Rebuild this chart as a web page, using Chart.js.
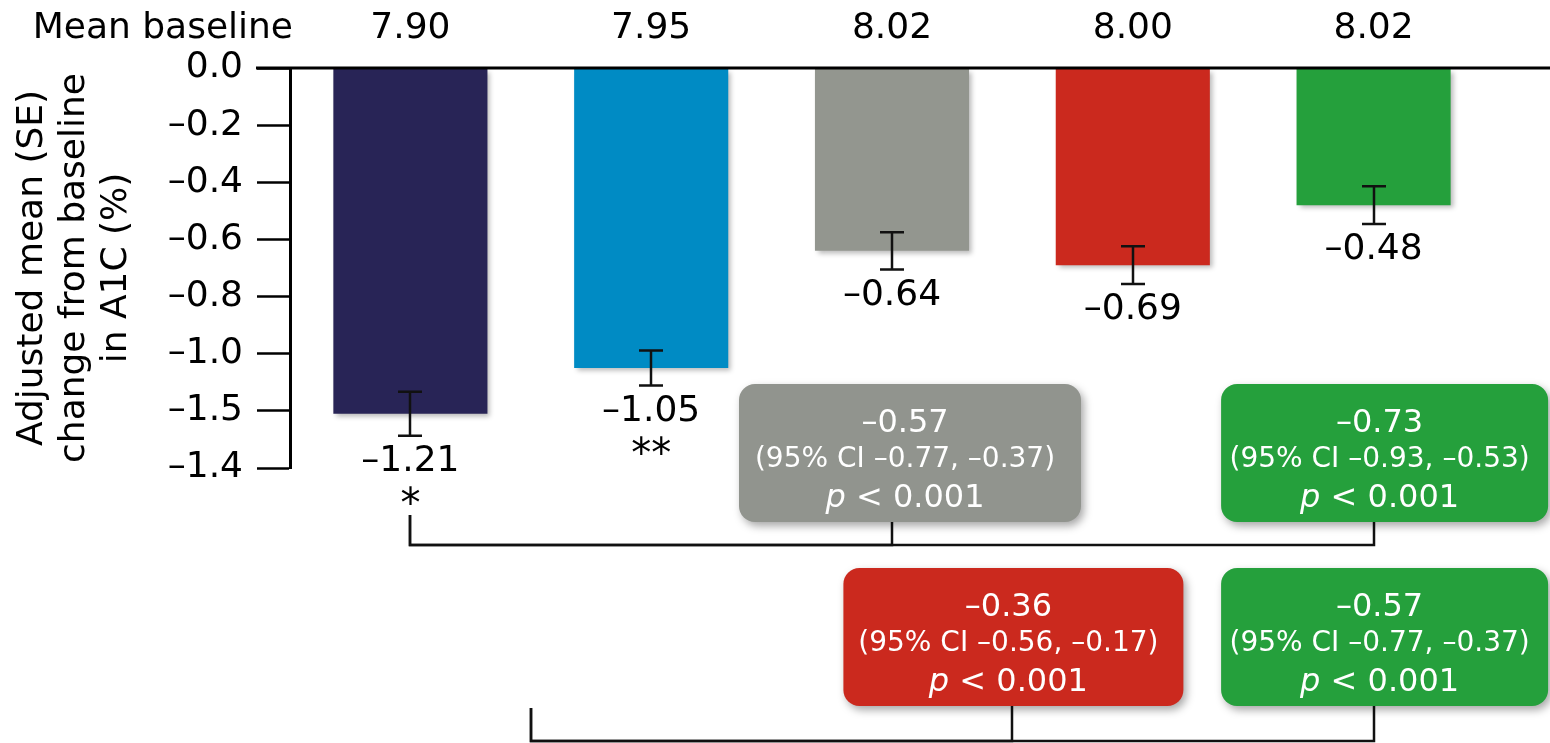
<!DOCTYPE html>
<html><head><meta charset="utf-8">
<script src="https://cdn.jsdelivr.net/npm/chart.js@4.4.0/dist/chart.umd.min.js"></script>
<style>html,body{margin:0;padding:0;background:#fff;overflow:hidden}</style>
</head><body>
<canvas id="c" width="1550" height="743" style="width:1550px;height:743px;display:block"></canvas>
<script>
// ---- data ----
const baselineLabels = ["7.90", "7.95", "8.02", "8.00", "8.02"];
const meanChange = [-1.21, -1.05, -0.64, -0.69, -0.48];
const seValues = [0.077, 0.061, 0.065, 0.066, 0.066];
const valueLabels = ["–1.21", "–1.05", "–0.64", "–0.69", "–0.48"];
const significance = ["*", "**", "", "", ""];
const barColors = ["#282456", "#008BC4", "#93968F", "#CB291E", "#25A03C"];
const yTickLabels = ["0.0", "–0.2", "–0.4", "–0.6", "–0.8", "–1.0", "–1.5", "–1.4"];
const yTitle = ["Adjusted mean (SE)", "change from baseline", "in A1C (%)"];
const headerLabel = "Mean baseline";
const compFrom = [0, 0, 0.5, 0.5];
const compTo = [2, 4, 2.5, 4];
const compRow = [0, 0, 1, 1];
const compDiff = ["–0.57", "–0.73", "–0.36", "–0.57"];
const compCI = ["(95% CI –0.77, –0.37)", "(95% CI –0.93, –0.53)", "(95% CI –0.56, –0.17)", "(95% CI –0.77, –0.37)"];
const compP = ["< 0.001", "< 0.001", "< 0.001", "< 0.001"];
const compColors = ["#91948E", "#25A03C", "#CB291E", "#25A03C"];

// ---- styles ----
const FONT = '"DejaVu Sans"';
const rowStyle = [
  { boxTop: 384, boxH: 138, lineY: 545, leftTickTop: 515 },
  { boxTop: 568, boxH: 138, lineY: 741, leftTickTop: 708 }
];
const boxStyle = [{ dx: 18, w: 342 }, { dx: 11, w: 327 }, { dx: 1, w: 340 }, { dx: 11, w: 327 }];

Chart.defaults.font.family = FONT;
Chart.defaults.color = '#000';

function rr(ctx, x, y, w, h, r) {
  ctx.beginPath();
  ctx.moveTo(x + r, y);
  ctx.lineTo(x + w - r, y); ctx.arcTo(x + w, y, x + w, y + r, r);
  ctx.lineTo(x + w, y + h - r); ctx.arcTo(x + w, y + h, x + w - r, y + h, r);
  ctx.lineTo(x + r, y + h); ctx.arcTo(x, y + h, x, y + h - r, r);
  ctx.lineTo(x, y + r); ctx.arcTo(x, y, x + r, y, r);
  ctx.closePath();
}

const overlay = {
  id: 'overlay',
  beforeDatasetsDraw(chart) {
    const c = chart.ctx;
    c.save();
    c.shadowColor = 'rgba(0,0,0,0.28)'; c.shadowBlur = 5; c.shadowOffsetX = 3; c.shadowOffsetY = 3;
  },
  afterDatasetsDraw(chart) {
    const ctx = chart.ctx; ctx.restore();
    const xs = chart.scales.x, ys = chart.scales.y;
    ctx.save();
    ctx.strokeStyle = '#111'; ctx.lineWidth = 2.5;
    meanChange.forEach((m, i) => {
      const cx = Math.round(xs.getPixelForValue(i));
      const yHi = ys.getPixelForValue(m + seValues[i]);
      const yLo = ys.getPixelForValue(m - seValues[i]);
      ctx.beginPath();
      ctx.moveTo(cx, yHi); ctx.lineTo(cx, yLo);
      ctx.moveTo(cx - 12, yHi); ctx.lineTo(cx + 12, yHi);
      ctx.moveTo(cx - 12, yLo); ctx.lineTo(cx + 12, yLo);
      ctx.stroke();
    });
    const y0 = ys.getPixelForValue(0);
    ctx.strokeStyle = '#000'; ctx.lineWidth = 3;
    ctx.beginPath(); ctx.moveTo(ys.right - 34, y0); ctx.lineTo(chart.width, y0); ctx.stroke();
    ctx.restore();
  },
  afterDraw(chart) {
    const ctx = chart.ctx;
    const xs = chart.scales.x, ys = chart.scales.y;
    ctx.save();
    // header label
    ctx.fillStyle = '#000';
    ctx.font = '36px ' + FONT;
    ctx.textAlign = 'right'; ctx.textBaseline = 'middle';
    ctx.fillText(headerLabel, ys.right + 3, xs.bottom - 18 - 36 * 1.2 / 2);
    // value labels + significance
    ctx.textAlign = 'center';
    meanChange.forEach((m, i) => {
      const cx = xs.getPixelForValue(i);
      const yLo = ys.getPixelForValue(m - seValues[i]);
      ctx.font = '36px ' + FONT;
      ctx.fillText(valueLabels[i], cx, yLo + 26);
      ctx.font = '40px ' + FONT;
      if (significance[i]) ctx.fillText(significance[i], cx, yLo + 71);
    });
    // brackets
    ctx.strokeStyle = '#111'; ctx.lineWidth = 2.5;
    compFrom.forEach((f, k) => {
      const r = rowStyle[compRow[k]];
      const xf = Math.round(xs.getPixelForValue(f));
      const xt = Math.round(xs.getPixelForValue(compTo[k]));
      ctx.beginPath();
      ctx.moveTo(xf, r.leftTickTop); ctx.lineTo(xf, r.lineY); ctx.lineTo(xt, r.lineY); ctx.lineTo(xt, r.boxTop + r.boxH);
      ctx.stroke();
    });
    // boxes
    compFrom.forEach((f, k) => {
      const r = rowStyle[compRow[k]], b = boxStyle[k];
      const cx = xs.getPixelForValue(compTo[k]) + b.dx;
      const bx = cx - b.w / 2;
      ctx.save();
      ctx.shadowColor = 'rgba(0,0,0,0.35)'; ctx.shadowBlur = 8; ctx.shadowOffsetX = 3; ctx.shadowOffsetY = 4;
      ctx.fillStyle = compColors[k];
      rr(ctx, bx, r.boxTop, b.w, r.boxH, 16);
      ctx.fill();
      ctx.restore();
      const tx = cx - 5;
      ctx.fillStyle = '#fff';
      ctx.textAlign = 'center'; ctx.textBaseline = 'middle';
      ctx.font = '32px ' + FONT;
      ctx.fillText(compDiff[k], tx, r.boxTop + 40);
      ctx.font = '28px ' + FONT;
      ctx.fillText(compCI[k], tx, r.boxTop + 76);
      ctx.font = 'italic 32px ' + FONT;
      const wp = ctx.measureText('p').width;
      ctx.font = '32px ' + FONT;
      const wr = ctx.measureText(' ' + compP[k]).width;
      const sx = tx - (wp + wr) / 2;
      ctx.textAlign = 'left';
      ctx.font = 'italic 32px ' + FONT;
      ctx.fillText('p', sx, r.boxTop + 115);
      ctx.font = '32px ' + FONT;
      ctx.fillText(' ' + compP[k], sx + wp, r.boxTop + 115);
    });
    ctx.restore();
  }
};

new Chart(document.getElementById('c'), {
  type: 'bar',
  data: {
    labels: baselineLabels,
    datasets: [{
      data: meanChange,
      backgroundColor: barColors,
      borderWidth: 0,
      barPercentage: 0.64,
      categoryPercentage: 1
    }]
  },
  options: {
    responsive: false,
    animation: false,
    devicePixelRatio: 1,
    layout: { padding: { top: 0, left: 0, right: 56, bottom: 275 } },
    plugins: { legend: { display: false }, tooltip: { enabled: false } },
    scales: {
      x: {
        position: 'top',
        grid: { display: false, drawTicks: false },
        border: { display: false },
        ticks: { color: '#000', font: { size: 36 }, padding: 18, autoSkip: false, maxRotation: 0 },
        afterFit: s => { s.height = 68; s.paddingLeft = 0; s.paddingRight = 0; }
      },
      y: {
        min: -1.4, max: 0,
        ticks: {
          stepSize: 0.2, padding: 14, color: '#000', font: { size: 36 },
          callback: v => yTickLabels[Math.round(-v / 0.2)]
        },
        grid: { drawOnChartArea: false, drawTicks: true, tickLength: 33, tickWidth: 2.5, color: '#000' },
        border: { display: true, color: '#000', width: 3 },
        title: { display: true, text: yTitle, color: '#000', font: { size: 36, lineHeight: 1.1667 }, padding: { top: 12, bottom: 0 } },
        afterFit: s => { s.width = 290; s.paddingTop = 0; s.paddingBottom = 0; }
      }
    }
  },
  plugins: [overlay]
});
</script>
</body></html>
